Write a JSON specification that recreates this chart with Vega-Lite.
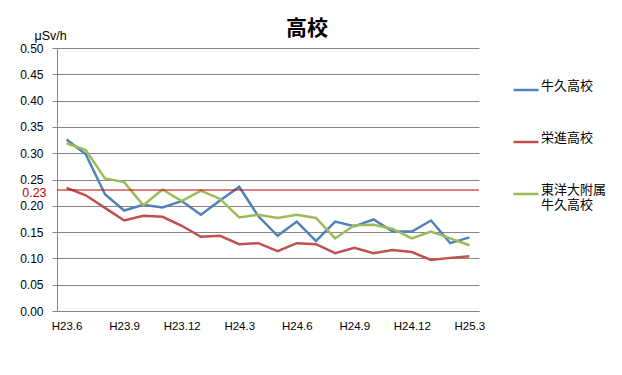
{
  "$schema": "https://vega.github.io/schema/vega-lite/v6.json",
  "autosize": "none",
  "width": 422,
  "height": 263,
  "padding": {"left": 57, "top": 48, "right": 143, "bottom": 64},
  "background": "white",
  "title": {"text": "高校", "font": "Noto Sans CJK JP", "fontSize": 21, "fontWeight": "bold", "color": "#000000", "anchor": "middle", "dx": 39, "dy": 18, "offset": 8},
  "config": {
    "view": {"stroke": null},
    "axisX": {"labelOverlap": false, "labelBound": false, "labelFlush": false, "labelAngle": 0, "tickBand": "extent",
      "labelExpr": "indexof(['H23.6','H23.9','H23.12','H24.3','H24.6','H24.9','H24.12','H25.3'], datum.value) >= 0 ? datum.label : ''",
      "tickOpacity": {"condition": {"test": "indexof(['H23.6','H23.9','H23.12','H24.3','H24.6','H24.9','H24.12','H25.3'], datum.value) >= 0", "value": 1}, "value": 0},
      "labelFont": "Liberation Sans", "labelFontSize": 11.5, "labelColor": "#000000", "labelPadding": 5, "tickSize": 4, "tickColor": "#868686", "domainColor": "#868686", "grid": false, "title": null},
    "axisY": {"titleAngle": 0, "titleX": -23, "titleY": -13, "titleAlign": "left", "titleBaseline": "middle", "titleFont": "Liberation Sans", "titleFontSize": 12.5, "titleFontWeight": "normal", "titleColor": "#000000",
      "labelOverlap": false, "labelFont": "Liberation Sans", "labelFontSize": 12, "labelColor": "#000000", "labelPadding": 9, "tickSize": 5, "tickColor": "#868686", "domainColor": "#868686", "gridColor": "#868686", "gridOpacity": 1}
  },
  "layer": [
    {
      "data": {"values": [
        {"month": "H23.6", "school": "牛久高校", "value": 0.326},
        {"month": "H23.7", "school": "牛久高校", "value": 0.298},
        {"month": "H23.8", "school": "牛久高校", "value": 0.222},
        {"month": "H23.9", "school": "牛久高校", "value": 0.191},
        {"month": "H23.10", "school": "牛久高校", "value": 0.202},
        {"month": "H23.11", "school": "牛久高校", "value": 0.197},
        {"month": "H23.12", "school": "牛久高校", "value": 0.209},
        {"month": "H24.1", "school": "牛久高校", "value": 0.183},
        {"month": "H24.2", "school": "牛久高校", "value": 0.210},
        {"month": "H24.3", "school": "牛久高校", "value": 0.236},
        {"month": "H24.4", "school": "牛久高校", "value": 0.180},
        {"month": "H24.5", "school": "牛久高校", "value": 0.143},
        {"month": "H24.6", "school": "牛久高校", "value": 0.170},
        {"month": "H24.7", "school": "牛久高校", "value": 0.133},
        {"month": "H24.8", "school": "牛久高校", "value": 0.170},
        {"month": "H24.9", "school": "牛久高校", "value": 0.161},
        {"month": "H24.10", "school": "牛久高校", "value": 0.174},
        {"month": "H24.11", "school": "牛久高校", "value": 0.151},
        {"month": "H24.12", "school": "牛久高校", "value": 0.151},
        {"month": "H25.1", "school": "牛久高校", "value": 0.172},
        {"month": "H25.2", "school": "牛久高校", "value": 0.129},
        {"month": "H25.3", "school": "牛久高校", "value": 0.140},
        {"month": "H23.6", "school": "栄進高校", "value": 0.234},
        {"month": "H23.7", "school": "栄進高校", "value": 0.220},
        {"month": "H23.8", "school": "栄進高校", "value": 0.196},
        {"month": "H23.9", "school": "栄進高校", "value": 0.172},
        {"month": "H23.10", "school": "栄進高校", "value": 0.181},
        {"month": "H23.11", "school": "栄進高校", "value": 0.179},
        {"month": "H23.12", "school": "栄進高校", "value": 0.162},
        {"month": "H24.1", "school": "栄進高校", "value": 0.141},
        {"month": "H24.2", "school": "栄進高校", "value": 0.143},
        {"month": "H24.3", "school": "栄進高校", "value": 0.127},
        {"month": "H24.4", "school": "栄進高校", "value": 0.129},
        {"month": "H24.5", "school": "栄進高校", "value": 0.114},
        {"month": "H24.6", "school": "栄進高校", "value": 0.129},
        {"month": "H24.7", "school": "栄進高校", "value": 0.127},
        {"month": "H24.8", "school": "栄進高校", "value": 0.110},
        {"month": "H24.9", "school": "栄進高校", "value": 0.120},
        {"month": "H24.10", "school": "栄進高校", "value": 0.110},
        {"month": "H24.11", "school": "栄進高校", "value": 0.116},
        {"month": "H24.12", "school": "栄進高校", "value": 0.112},
        {"month": "H25.1", "school": "栄進高校", "value": 0.097},
        {"month": "H25.2", "school": "栄進高校", "value": 0.101},
        {"month": "H25.3", "school": "栄進高校", "value": 0.104},
        {"month": "H23.6", "school": "東洋大附属牛久高校", "value": 0.319},
        {"month": "H23.7", "school": "東洋大附属牛久高校", "value": 0.306},
        {"month": "H23.8", "school": "東洋大附属牛久高校", "value": 0.252},
        {"month": "H23.9", "school": "東洋大附属牛久高校", "value": 0.245},
        {"month": "H23.10", "school": "東洋大附属牛久高校", "value": 0.201},
        {"month": "H23.11", "school": "東洋大附属牛久高校", "value": 0.231},
        {"month": "H23.12", "school": "東洋大附属牛久高校", "value": 0.209},
        {"month": "H24.1", "school": "東洋大附属牛久高校", "value": 0.229},
        {"month": "H24.2", "school": "東洋大附属牛久高校", "value": 0.213},
        {"month": "H24.3", "school": "東洋大附属牛久高校", "value": 0.178},
        {"month": "H24.4", "school": "東洋大附属牛久高校", "value": 0.183},
        {"month": "H24.5", "school": "東洋大附属牛久高校", "value": 0.177},
        {"month": "H24.6", "school": "東洋大附属牛久高校", "value": 0.183},
        {"month": "H24.7", "school": "東洋大附属牛久高校", "value": 0.177},
        {"month": "H24.8", "school": "東洋大附属牛久高校", "value": 0.138},
        {"month": "H24.9", "school": "東洋大附属牛久高校", "value": 0.163},
        {"month": "H24.10", "school": "東洋大附属牛久高校", "value": 0.164},
        {"month": "H24.11", "school": "東洋大附属牛久高校", "value": 0.156},
        {"month": "H24.12", "school": "東洋大附属牛久高校", "value": 0.138},
        {"month": "H25.1", "school": "東洋大附属牛久高校", "value": 0.151},
        {"month": "H25.2", "school": "東洋大附属牛久高校", "value": 0.138},
        {"month": "H25.3", "school": "東洋大附属牛久高校", "value": 0.125}
      ]},
      "mark": {"type": "line", "strokeWidth": 2.5},
      "encoding": {
        "x": {
          "field": "month", "type": "ordinal",
          "scale": {"type": "band", "paddingInner": 0, "paddingOuter": 0,
            "domain": ["H23.6","H23.7","H23.8","H23.9","H23.10","H23.11","H23.12","H24.1","H24.2","H24.3","H24.4","H24.5","H24.6","H24.7","H24.8","H24.9","H24.10","H24.11","H24.12","H25.1","H25.2","H25.3"]}
        },
        "y": {
          "field": "value", "type": "quantitative",
          "scale": {"domain": [0, 0.5], "nice": false, "zero": true},
          "axis": {"title": "μSv/h", "values": [0, 0.05, 0.1, 0.15, 0.2, 0.25, 0.3, 0.35, 0.4, 0.45, 0.5], "format": ".2f"}
        },
        "color": {
          "field": "school", "type": "nominal",
          "scale": {"domain": ["牛久高校", "栄進高校", "東洋大附属牛久高校"], "range": ["#4F81BD", "#C0504D", "#9BBB59"]},
          "legend": {"title": null, "orient": "none", "legendX": 455, "legendY": 28, "padding": 0, "rowPadding": 20, "gridAlign": "all", "symbolType": "stroke", "symbolSize": 625, "symbolStrokeWidth": 2.5, "labelOffset": 1, "labelFont": "Noto Sans CJK JP", "labelFontSize": 13, "labelColor": "#000000", "labelBaseline": "alphabetic", "labelLimit": 200,
            "labelExpr": "datum.label == '東洋大附属牛久高校' ? ['東洋大附属', '牛久高校'] : datum.label"}
        }
      }
    },
    {
      "data": {"values": [{"value": 0.23}]},
      "mark": {"type": "rule", "color": "#C00000", "strokeWidth": 1},
      "encoding": {"y": {"field": "value", "type": "quantitative",
          "axis": {"title": "μSv/h", "values": [0, 0.05, 0.1, 0.15, 0.2, 0.25, 0.3, 0.35, 0.4, 0.45, 0.5], "format": ".2f"}}}
    },
    {
      "data": {"values": [{"month": "H23.6", "value": 0.23, "label": "0.23"}]},
      "mark": {"type": "text", "color": "#C00000", "align": "right", "baseline": "middle", "dx": -20, "dy": 3, "font": "Liberation Sans", "fontSize": 12.5},
      "encoding": {
        "x": {"field": "month", "type": "ordinal"},
        "y": {"field": "value", "type": "quantitative",
          "axis": {"title": "μSv/h", "values": [0, 0.05, 0.1, 0.15, 0.2, 0.25, 0.3, 0.35, 0.4, 0.45, 0.5], "format": ".2f"}},
        "text": {"field": "label"}
      }
    }
  ]
}
